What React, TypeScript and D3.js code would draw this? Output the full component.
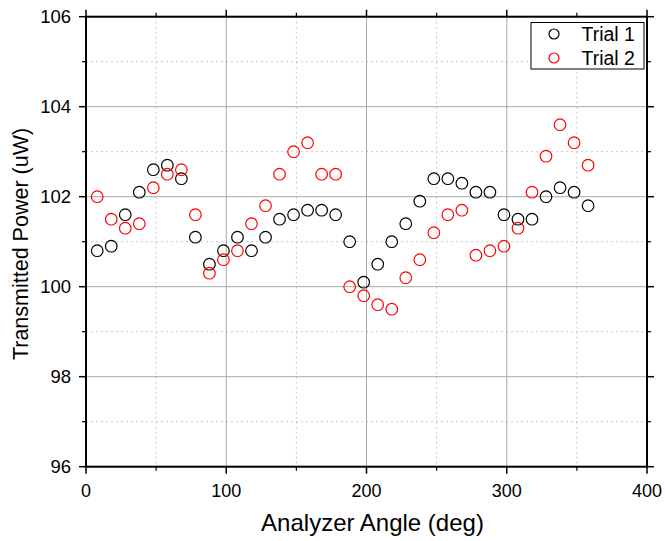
import React from "react";
import * as d3 from "d3";

const angles = [8, 18, 28, 38, 48, 58, 68, 78, 88, 98, 108, 118, 128, 138, 148, 158, 168, 178, 188, 198, 208, 218, 228, 238, 248, 258, 268, 278, 288, 298, 308, 318, 328, 338, 348, 358];
const trial1 = [100.8, 100.9, 101.6, 102.1, 102.6, 102.7, 102.4, 101.1, 100.5, 100.8, 101.1, 100.8, 101.1, 101.5, 101.6, 101.7, 101.7, 101.6, 101.0, 100.1, 100.5, 101.0, 101.4, 101.9, 102.4, 102.4, 102.3, 102.1, 102.1, 101.6, 101.5, 101.5, 102.0, 102.2, 102.1, 101.8];
const trial2 = [102.0, 101.5, 101.3, 101.4, 102.2, 102.5, 102.6, 101.6, 100.3, 100.6, 100.8, 101.4, 101.8, 102.5, 103.0, 103.2, 102.5, 102.5, 100.0, 99.8, 99.6, 99.5, 100.2, 100.6, 101.2, 101.6, 101.7, 100.7, 100.8, 100.9, 101.3, 102.1, 102.9, 103.6, 103.2, 102.7];
const xMajor = [0, 100, 200, 300, 400];
const xMinor = [50, 150, 250, 350];
const yMajor = [96, 98, 100, 102, 104, 106];
const yMinor = [97, 99, 101, 103, 105];
const seriesNames = ["Trial 1", "Trial 2"];
const seriesColors = ["#000000", "#ff0000"];

export default function App() {
  const W = 665, H = 541;
  const L = 86, R = 647, T = 16.7, B = 466.7;
  const x = d3.scaleLinear().domain([0, 400]).range([L, R]);
  const y = d3.scaleLinear().domain([96, 106]).range([B, T]);
  const font = "'Liberation Sans', Arial, sans-serif";
  const series = [trial1, trial2];
  return (
    <svg width={W} height={H} style={{ position: "absolute", left: 0, top: 0, background: "#fff" }} fontFamily={font}>
      <rect x={0} y={0} width={W} height={H} fill="#fff" />
      {xMinor.map((v) => (
        <line key={"xm" + v} x1={x(v)} x2={x(v)} y1={T} y2={B} stroke="#c8c8c8" strokeWidth={1} strokeDasharray="2,3" />
      ))}
      {yMinor.map((v) => (
        <line key={"ym" + v} x1={L} x2={R} y1={y(v)} y2={y(v)} stroke="#c8c8c8" strokeWidth={1} strokeDasharray="2,3" />
      ))}
      {xMajor.map((v) => (
        <line key={"xg" + v} x1={x(v)} x2={x(v)} y1={T} y2={B} stroke="#a8a8a8" strokeWidth={1} />
      ))}
      {yMajor.map((v) => (
        <line key={"yg" + v} x1={L} x2={R} y1={y(v)} y2={y(v)} stroke="#a8a8a8" strokeWidth={1} />
      ))}
      {series.map((s, si) =>
        s.map((v, i) => (
          <circle key={si + "-" + i} cx={x(angles[i])} cy={y(v)} r={5.8} fill="none" stroke={seriesColors[si]} strokeWidth={1.2} />
        ))
      )}
      <rect x={L} y={T} width={R - L} height={B - T} fill="none" stroke="#000" strokeWidth={2} />
      {xMajor.map((v) => (
        <g key={"xt" + v}>
          <line x1={x(v)} x2={x(v)} y1={B} y2={B + 7} stroke="#000" strokeWidth={1.5} />
          <line x1={x(v)} x2={x(v)} y1={T} y2={T - 7} stroke="#000" strokeWidth={1.5} />
          <text x={x(v)} y={497} textAnchor="middle" fontSize={18} fill="#000">{v}</text>
        </g>
      ))}
      {xMinor.map((v) => (
        <g key={"xmt" + v}>
          <line x1={x(v)} x2={x(v)} y1={B} y2={B + 4} stroke="#000" strokeWidth={1.2} />
          <line x1={x(v)} x2={x(v)} y1={T} y2={T - 4} stroke="#000" strokeWidth={1.2} />
        </g>
      ))}
      {yMajor.map((v) => (
        <g key={"yt" + v}>
          <line x1={L} x2={L - 7} y1={y(v)} y2={y(v)} stroke="#000" strokeWidth={1.5} />
          <line x1={R} x2={R + 7} y1={y(v)} y2={y(v)} stroke="#000" strokeWidth={1.5} />
          <text x={71} y={y(v) + 6.5} textAnchor="end" fontSize={18.5} fill="#000">{v}</text>
        </g>
      ))}
      {yMinor.map((v) => (
        <g key={"ymt" + v}>
          <line x1={L} x2={L - 4} y1={y(v)} y2={y(v)} stroke="#000" strokeWidth={1.2} />
          <line x1={R} x2={R + 4} y1={y(v)} y2={y(v)} stroke="#000" strokeWidth={1.2} />
        </g>
      ))}
      <text x={372.5} y={531} textAnchor="middle" fontSize={24} fill="#000">Analyzer Angle (deg)</text>
      <text transform={`translate(27.5,244) rotate(-90)`} textAnchor="middle" fontSize={21.5} fill="#000">Transmitted Power (uW)</text>
      <rect x={531} y={22.5} width={113} height={46.5} fill="#fff" stroke="#000" strokeWidth={1} />
      {seriesNames.map((n, i) => (
        <g key={n}>
          <circle cx={554} cy={34 + i * 24} r={5} fill="none" stroke={seriesColors[i]} strokeWidth={1.2} />
          <text x={581.5} y={41 + i * 23.5} fontSize={19.5} fill="#000">{n}</text>
        </g>
      ))}
    </svg>
  );
}
